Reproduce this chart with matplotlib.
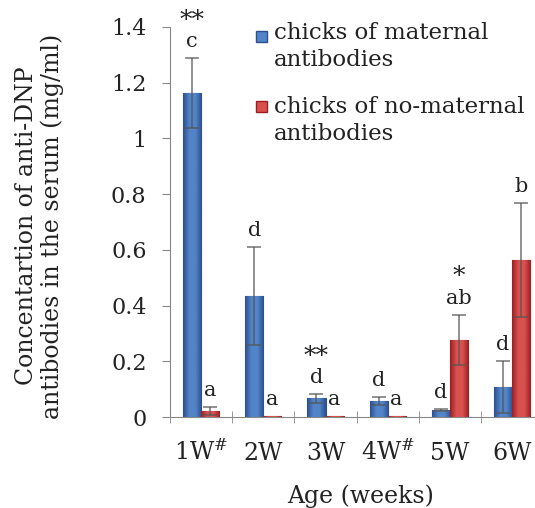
import matplotlib

matplotlib.use("Agg")
import matplotlib.pyplot as plt  # noqa: E402
import numpy as np  # noqa: E402
from matplotlib.colors import LinearSegmentedColormap  # noqa: E402
from matplotlib.patches import Rectangle  # noqa: E402

plt.rcParams["font.family"] = ["DejaVu Serif"]
plt.rcParams["mathtext.fontset"] = "dejavuserif"

# --- data ---
weeks = ["1W$^{\\#}$", "2W", "3W", "4W$^{\\#}$", "5W", "6W"]
maternal = [1.163, 0.435, 0.067, 0.058, 0.025, 0.108]
maternal_err = [0.125, 0.175, 0.015, 0.013, 0.004, 0.092]
no_maternal = [0.022, 0.004, 0.003, 0.004, 0.278, 0.563]
no_maternal_err = [0.014, 0.0, 0.0, 0.0, 0.09, 0.204]
maternal_letters = ["c", "d", "d", "d", "d", "d"]
maternal_stars = ["**", "", "**", "", "", ""]
no_maternal_letters = ["a", "a", "a", "a", "ab", "b"]
no_maternal_stars = ["", "", "", "", "*", ""]

SERIES = [
    ("chicks of maternal\nantibodies", maternal, maternal_err,
     maternal_letters, maternal_stars, "#2c4f8e", "#5284c8"),
    ("chicks of no-maternal\nantibodies", no_maternal, no_maternal_err,
     no_maternal_letters, no_maternal_stars, "#9c1e22", "#d8514f"),
]
TEXT = "#222222"

fig = plt.figure(figsize=(5.35, 5.08), dpi=100)
ax = fig.add_axes([0.318, 0.179, 0.697, 0.768])

x = np.arange(len(weeks)) + 0.5
width = 0.29

for i, (name, vals, errs, letters, stars, dark, light) in enumerate(SERIES):
    pos = x + (i - 0.5) * width
    bars = ax.bar(pos, vals, width, color=dark, edgecolor=dark, linewidth=0.8, zorder=2)
    cmap = LinearSegmentedColormap.from_list(f"g{i}", [dark, light, light, dark])
    for b in bars:
        im = ax.imshow(np.linspace(0, 1, 64)[None, :], cmap=cmap, aspect="auto",
                       extent=[b.get_x(), b.get_x() + b.get_width(), 0, b.get_height()],
                       zorder=2.5)
        im.set_clip_path(b)
    errs = np.asarray(errs)
    m = errs > 0
    ax.errorbar(pos[m], np.asarray(vals)[m], yerr=errs[m], fmt="none",
                ecolor="#555555", alpha=0.7, elinewidth=1.3, capsize=5, capthick=1.3, zorder=3)
    for px, v, e, let, st in zip(pos, vals, errs, letters, stars):
        ax.annotate(let, (px, v + e), xytext=(0, 5), textcoords="offset points",
                    ha="center", va="bottom", fontsize=15, color=TEXT)
        if st:
            ax.annotate(st, (px, v + e), xytext=(0, 19), textcoords="offset points",
                        ha="center", va="bottom", fontsize=18, color=TEXT,
                        annotation_clip=False)
    # legend drawn by hand: square beside the first line of each label
    sy = 0.962 - i * 0.18
    ax.add_patch(Rectangle((0.231, sy), 0.0295, 0.028, transform=ax.transAxes,
                           facecolor=light, edgecolor=dark, lw=1, clip_on=False))
    ax.text(0.279, 1.012 - i * 0.19, name, transform=ax.transAxes, ha="left",
            va="top", fontsize=16.5, color=TEXT, linespacing=1.3)

ax.set_xlim(0, len(weeks))
ax.set_ylim(0, 1.4)
ax.set_yticks(np.arange(0, 1.41, 0.2))
ax.set_yticklabels(["0", "0.2", "0.4", "0.6", "0.8", "1", "1.2", "1.4"])
ax.set_xticks(x)
ax.set_xticklabels(weeks)
for t in ax.get_xticklabels():
    t.set_verticalalignment("baseline")
ax.set_xticks(np.arange(0, len(weeks) + 1), minor=True)
ax.tick_params(axis="x", which="major", length=0, pad=31, labelsize=17, labelcolor=TEXT)
ax.tick_params(axis="x", which="minor", length=8, direction="inout", color="#888888")
ax.tick_params(axis="y", length=6, color="#888888", labelsize=16, labelcolor=TEXT, pad=11)
for s in ("top", "right"):
    ax.spines[s].set_visible(False)
for s in ("left", "bottom"):
    ax.spines[s].set_color("#888888")

ax.set_xlabel("Age (weeks)", fontsize=17, color=TEXT)
ax.xaxis.set_label_coords(0.512, -0.172)
ax.set_ylabel("Concentartion of anti-DNP\nantibodies in the serum (mg/ml)",
              fontsize=17, color=TEXT, linespacing=1.1)
ax.yaxis.set_label_coords(-0.285, 0.49)

fig.savefig("out.png", dpi=100)
